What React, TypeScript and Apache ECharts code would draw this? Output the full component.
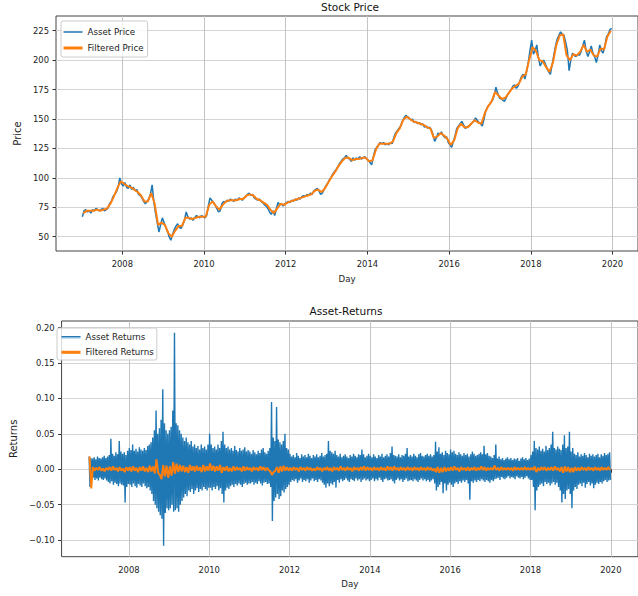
import React, { useEffect, useRef } from 'react';
import * as echarts from 'echarts';

const START_YEAR = 2007;
const xTicks = [2008, 2010, 2012, 2014, 2016, 2018, 2020];
const priceTicks = [50, 75, 100, 125, 150, 175, 200, 225];
const returnTicks = [-0.1, -0.05, 0, 0.05, 0.1, 0.15, 0.2];

// half-month readings of the asset price, Jan 2007 .. Dec 2019 (24 per year)
const assetPrice = [
  67, 72, 73, 71, 72, 70, 73, 72, 74, 73, 72, 73, 74, 72, 73, 74, 78, 80, 84, 86, 88, 92, 100, 95,
  93, 96, 92, 91, 94, 90, 92, 89, 90, 86, 85, 83, 80, 78, 80, 82, 86, 94, 80, 70, 62, 54, 60, 66,
  62, 58, 55, 50, 47, 52, 56, 59, 61, 58, 57, 60, 64, 71, 67, 65, 66, 64, 66, 68, 67, 66, 68, 67,
  66, 68, 76, 83, 81, 79, 77, 74, 71, 72, 78, 80, 79, 81, 80, 82, 81, 80, 82, 81, 83, 82, 81, 83,
  84, 86, 87, 85, 86, 83, 82, 81, 82, 80, 79, 77, 76, 74, 71, 69, 72, 68, 74, 79, 77, 78, 76, 78,
  79, 80, 79, 81, 80, 82, 81, 83, 82, 84, 85, 84, 86, 85, 87, 86, 89, 90, 91, 89, 86, 87, 90, 93,
  95, 98, 100, 103, 105, 107, 109, 112, 114, 116, 117, 119, 117, 116, 114, 117, 115, 117, 116, 118, 116, 117, 118, 116,
  115, 113, 111, 118, 124, 126, 128, 130, 129, 130, 128, 129, 128, 130, 129, 134, 138, 140, 142, 144, 148, 151, 153, 152,
  151, 149, 150, 147, 148, 146, 147, 145, 146, 143, 144, 142, 143, 141, 137, 131, 134, 138, 137, 139, 136, 134, 135, 130,
  128, 126, 131, 136, 142, 144, 146, 148, 145, 142, 143, 144, 145, 147, 148, 151, 149, 147, 146, 144, 150, 157, 160, 162,
  164, 166, 170, 177, 172, 168, 167, 166, 165, 168, 171, 173, 175, 178, 179, 176, 178, 182, 186, 188, 184, 190, 198, 208,
  217, 205, 208, 213, 202, 195, 198, 200, 197, 193, 190, 188, 196, 204, 212, 218, 221, 224, 222, 221, 215, 208, 191, 200,
  206, 204, 203, 205, 204, 207, 212, 217, 208, 203, 207, 212, 206, 203, 198, 204, 213, 208, 206, 212, 220, 222, 226, 227,
];

// monthly readings of the filtered price, Jan 2007 .. Dec 2019
const filteredPrice = [
  70, 72, 72, 72, 73, 72, 73, 74, 78, 84, 91, 97,
  95, 93, 92, 90, 88, 85, 80, 80, 87, 78, 60, 62,
  60, 53, 50, 55, 59, 59, 66, 66, 65, 66, 67, 67,
  67, 77, 80, 76, 73, 77, 80, 81, 81, 81, 82, 82,
  85, 86, 85, 82, 81, 79, 77, 73, 70, 74, 78, 77,
  79, 80, 81, 82, 83, 84, 85, 86, 89, 90, 88, 91,
  96, 101, 105, 110, 114, 117, 117, 115, 116, 116, 117, 117,
  114, 115, 124, 129, 129, 129, 129, 131, 138, 142, 149, 152,
  150, 148, 147, 146, 145, 143, 142, 134, 135, 138, 136, 133,
  128, 132, 142, 146, 143, 143, 146, 149, 147, 146, 155, 161,
  165, 173, 170, 167, 168, 172, 176, 178, 180, 186, 188, 200,
  211, 208, 200, 199, 194, 190, 198, 213, 221, 222, 204, 200,
  205, 204, 207, 213, 207, 209, 204, 203, 210, 209, 220, 225,
];

// half-month highs / lows of daily returns, in thousandths
const assetReturnHigh = [
  18, 16, 15, 17, 14, 18, 16, 15, 17, 19, 16, 18, 20, 43, 22, 19, 24, 21, 40, 25, 22, 24, 20, 26,
  30, 27, 35, 26, 29, 25, 31, 28, 26, 30, 27, 33, 35, 38, 45, 55, 83, 50, 58, 70, 113, 65, 55, 50,
  55, 60, 83, 193, 65, 62, 55, 50, 45, 40, 45, 38, 35, 40, 32, 35, 30, 33, 28, 35, 30, 32, 28, 35,
  50, 35, 30, 32, 28, 35, 30, 40, 53, 35, 30, 32, 28, 30, 26, 33, 27, 25, 30, 26, 28, 31, 25, 27,
  25, 22, 27, 24, 21, 26, 23, 28, 30, 24, 22, 26, 30, 95, 45, 40, 88, 42, 38, 35, 40, 50, 30, 28,
  22, 18, 20, 17, 23, 19, 16, 21, 18, 20, 17, 22, 19, 16, 20, 18, 21, 17, 19, 23, 18, 20, 22, 40,
  26, 24, 22, 26, 20, 18, 22, 17, 19, 21, 18, 16, 20, 18, 22, 19, 17, 21, 20, 28, 21, 17, 19, 22,
  19, 17, 21, 18, 16, 20, 18, 22, 17, 19, 21, 18, 23, 32, 20, 19, 18, 21, 17, 20, 19, 22, 30, 18,
  20, 18, 22, 19, 17, 21, 23, 19, 18, 20, 22, 19, 21, 18, 20, 39, 25, 31, 22, 24, 20, 26, 23, 21,
  28, 24, 26, 22, 20, 24, 21, 19, 23, 20, 22, 18, 21, 25, 22, 19, 20, 22, 24, 21, 33, 21, 23, 19,
  18, 16, 20, 35, 15, 18, 14, 16, 13, 15, 17, 14, 16, 13, 15, 14, 16, 12, 15, 17, 14, 16, 13, 15,
  20, 25, 40, 30, 28, 32, 26, 29, 25, 33, 27, 30, 35, 53, 30, 28, 32, 29, 27, 35, 48, 30, 32, 53,
  25, 30, 22, 20, 24, 18, 21, 19, 23, 20, 17, 22, 19, 21, 18, 20, 22, 17, 21, 19, 23, 20, 22, 24,
];

const assetReturnLow = [
  -25, -14, -12, -15, -13, -16, -12, -14, -15, -13, -16, -18, -20, -17, -22, -19, -21, -24, -20, -22, -23, -47, -25, -21,
  -22, -25, -20, -24, -26, -21, -23, -25, -20, -24, -27, -25, -30, -35, -45, -50, -55, -60, -65, -70, -108, -62, -55, -58,
  -55, -50, -60, -58, -55, -60, -50, -45, -40, -35, -38, -30, -32, -28, -35, -30, -27, -32, -28, -30, -25, -28, -30, -26,
  -26, -30, -25, -28, -24, -30, -27, -35, -47, -30, -26, -28, -24, -22, -25, -21, -23, -20, -22, -25, -21, -19, -22, -20,
  -20, -18, -22, -19, -21, -17, -20, -23, -19, -18, -21, -20, -25, -73, -45, -40, -35, -42, -38, -30, -33, -28, -25, -22,
  -18, -15, -17, -14, -19, -16, -13, -18, -15, -17, -14, -19, -16, -13, -17, -15, -18, -14, -16, -19, -22, -26, -20, -24,
  -20, -22, -18, -26, -15, -19, -14, -17, -15, -13, -16, -18, -14, -15, -17, -13, -16, -14, -18, -15, -13, -16, -14, -17,
  -15, -13, -17, -14, -16, -12, -15, -18, -14, -13, -16, -15, -14, -17, -20, -15, -13, -16, -14, -18, -15, -13, -17, -16,
  -15, -17, -14, -16, -18, -15, -13, -16, -14, -17, -15, -18, -16, -14, -20, -30, -25, -22, -18, -34, -20, -30, -22, -19,
  -22, -25, -20, -18, -21, -17, -19, -16, -18, -15, -20, -43, -17, -19, -16, -18, -15, -17, -14, -16, -18, -15, -17, -19,
  -15, -17, -14, -13, -12, -15, -11, -13, -14, -12, -10, -13, -11, -12, -14, -10, -12, -13, -11, -14, -12, -10, -13, -15,
  -15, -25, -58, -30, -25, -22, -20, -24, -18, -21, -19, -23, -20, -18, -22, -19, -25, -30, -47, -35, -42, -30, -28, -35,
  -55, -30, -25, -28, -22, -20, -24, -19, -26, -21, -18, -23, -20, -27, -22, -19, -21, -18, -20, -17, -15, -18, -16, -15,
];

// half-month filtered returns, in thousandths
const filteredReturns = [
  18, -27, 3, -2, 2, -1, 3, -2, 1, -3, 2, -1, 3, -2, 4, -1, 2, -3, 3, -2, 1, -4, 3, -2,
  3, -3, 4, -2, 2, -4, 3, -2, 4, -3, 2, -4, 5, -3, 4, -6, 14, -5, -8, -14, 6, -10, 5, -12,
  4, -9, 10, -6, 8, -4, 6, -3, 5, -4, 3, -5, 6, -2, 4, -3, 5, -2, 3, -4, 6, -3, 4, -2,
  8, -2, 5, -3, 4, -2, 6, -5, 3, -2, 4, -3, 2, -3, 4, -2, 3, -1, 2, -3, 4, -2, 3, -1,
  2, -3, 3, -1, 2, -2, 4, -1, 3, -2, 2, -1, -3, -8, -4, -2, 3, -5, 4, -3, 5, -2, 3, -2,
  2, -2, 3, -1, 2, -3, 3, -1, 2, -2, 3, -1, 2, -2, 1, -2, 3, -1, 2, -3, 2, -1, 3, -2,
  2, -3, 3, -1, 2, -2, 4, -1, 2, -2, 3, -1, 2, -3, 3, -1, 2, -2, 3, -1, 4, -2, 3, -1,
  2, -2, 3, -1, 2, -2, 3, -1, 2, -2, 4, -1, 3, -2, 4, -1, 2, -2, 3, -1, 2, -2, 3, -1,
  2, -2, 3, -1, 2, -2, 3, -1, 2, -2, 3, -1, 2, -2, 1, -4, 3, -5, 2, -4, 3, -3, 2, -2,
  3, -2, 4, -1, 2, -3, 3, -1, 2, -2, 3, -2, 2, -1, 3, -2, 2, -1, 4, -1, 3, -2, 2, -1,
  2, -1, 5, -1, 2, -2, 3, -1, 2, -1, 2, -1, 2, -2, 3, -1, 2, -1, 2, -1, 3, -1, 2, -1,
  2, -1, 4, -4, 2, -2, 3, -1, 3, -2, 2, -1, 3, -2, 4, -1, 2, -3, 3, -5, 4, -3, 3, -4,
  2, -4, 3, -2, 2, -2, 3, -1, 2, -2, 3, -1, 2, -2, 3, -1, 2, -2, 3, -1, 2, -1, 3, -1,
];

const FONT = "'DejaVu Sans', sans-serif";
const BLUE = '#1f77b4';
const ORANGE = '#ff7f0e';
const TXT = '#222';
// legend handles: a thin bar for the asset line, a thicker one for the filtered line
const THIN_ICON = 'path://M0,0h20v0.001h-20z M0,0.75h20v1.5h-20z M0,2.999h20v0.001h-20z';
const THICK_ICON = 'rect';

function buildOption() {
  const priceAsset = assetPrice.map((v, i) => [START_YEAR + (i + 0.5) / 24, v]);
  const priceFiltered = filteredPrice.map((v, i) => [START_YEAR + (i + 0.5) / 12, v]);
  const retAsset: number[][] = [];
  assetReturnHigh.forEach((h, i) => {
    retAsset.push([START_YEAR + (i + 0.25) / 24, h / 1000]);
    retAsset.push([START_YEAR + (i + 0.75) / 24, assetReturnLow[i] / 1000]);
  });
  const retFiltered = filteredReturns.map((v, i) => [START_YEAR + (i + 0.5) / 24, v / 1000]);

  const xAxis = (gridIndex: number, min: number, max: number) => ({
    type: 'value',
    gridIndex,
    min,
    max,
    axisLine: { show: false },
    axisTick: { show: true, customValues: xTicks, length: 3.5, lineStyle: { color: '#333', width: 1 } },
    axisLabel: { customValues: xTicks, fontSize: 8.4, color: TXT, fontFamily: FONT, margin: 9, formatter: (v: number) => String(v) },
    splitLine: { show: true, lineStyle: { color: '#c4c4c4', width: 1 } },
    name: 'Day',
    nameLocation: 'middle',
    nameGap: 23,
    nameTextStyle: { fontSize: 8.6, color: TXT, fontFamily: FONT },
  });

  const yAxis = (gridIndex: number, min: number, max: number, ticks: number[], name: string, nameGap: number, fmt: (v: number) => string) => ({
    type: 'value',
    gridIndex,
    min,
    max,
    axisLine: { show: false },
    axisTick: { show: true, customValues: ticks, length: 3.5, lineStyle: { color: '#333', width: 1 } },
    axisLabel: { customValues: ticks, fontSize: 8.4, color: TXT, fontFamily: FONT, margin: 7, formatter: fmt },
    splitLine: { show: true, lineStyle: { color: '#d4d4d4', width: 1.2 } },
    name,
    nameLocation: 'middle',
    nameGap,
    nameRotate: 90,
    nameTextStyle: { fontSize: 10, color: TXT, fontFamily: FONT },
  });

  const legend = (names: string[], left: number, top: number, padding: number[], itemGap: number) => ({
    data: [
      { name: names[0], icon: THIN_ICON },
      { name: names[1], icon: THICK_ICON },
    ],
    orient: 'vertical',
    left,
    top,
    itemWidth: 19,
    itemHeight: 3,
    itemGap,
    padding,
    borderColor: '#cccccc',
    borderWidth: 1,
    borderRadius: 2,
    backgroundColor: 'rgba(255,255,255,0.8)',
    selectedMode: false,
    textStyle: { fontSize: 8.7, lineHeight: 11, color: TXT, fontFamily: FONT },
  });

  return {
    animation: false,
    backgroundColor: '#ffffff',
    grid: [
      { left: 56, top: 16, width: 587.7, height: 235, show: true, borderColor: '#444', borderWidth: 1, backgroundColor: 'transparent' },
      { left: 54, top: 321, width: 588.4, height: 235.7, show: true, borderColor: '#444', borderWidth: 1, backgroundColor: 'transparent' },
    ],
    xAxis: [xAxis(0, 2006.376, 2020.624), xAxis(1, 2006.324, 2020.676)],
    yAxis: [
      yAxis(0, 37.85, 237.5, priceTicks, 'Price', 21, (v: number) => String(v)),
      yAxis(1, -0.1236, 0.2095, returnTicks, 'Returns', 35, (v: number) => (v < 0 ? '\u2212' : '') + Math.abs(v).toFixed(2)),
    ],
    legend: [
      legend(['Asset Price', 'Filtered Price'], 61, 21, [5.5, 4, 3.5, 2.5], 5),
      legend(['Asset Returns', 'Filtered Returns'], 57, 328, [3.2, 3, 2.2, 4.5], 4.6),
    ],
    graphic: [
      { type: 'text', x: 350, y: 7, style: { text: 'Stock Price', fontSize: 10.5, fontFamily: FONT, fill: '#111', textAlign: 'center', textVerticalAlign: 'middle' } },
      { type: 'text', x: 346, y: 311, style: { text: 'Asset-Returns', fontSize: 10.5, fontFamily: FONT, fill: '#111', textAlign: 'center', textVerticalAlign: 'middle' } },
    ],
    series: [
      { name: 'Asset Price', type: 'line', xAxisIndex: 0, yAxisIndex: 0, data: priceAsset, symbol: 'none', color: BLUE, lineStyle: { color: BLUE, width: 1.5 }, silent: true },
      { name: 'Filtered Price', type: 'line', xAxisIndex: 0, yAxisIndex: 0, data: priceFiltered, symbol: 'none', color: ORANGE, lineStyle: { color: ORANGE, width: 2 }, silent: true },
      { name: 'Asset Returns', type: 'line', xAxisIndex: 1, yAxisIndex: 1, data: retAsset, symbol: 'none', color: BLUE, lineStyle: { color: BLUE, width: 1.4 }, silent: true },
      { name: 'Filtered Returns', type: 'line', xAxisIndex: 1, yAxisIndex: 1, data: retFiltered, symbol: 'none', color: ORANGE, lineStyle: { color: ORANGE, width: 2 }, silent: true },
    ],
  };
}

export default function App() {
  const ref = useRef<HTMLDivElement>(null);
  useEffect(() => {
    if (!ref.current) return;
    const chart = echarts.init(ref.current, null, { renderer: 'svg' });
    chart.setOption(buildOption() as any);
    return () => chart.dispose();
  }, []);
  return <div ref={ref} style={{ position: 'absolute', left: 0, top: 0, width: 638, height: 596 }} />;
}
